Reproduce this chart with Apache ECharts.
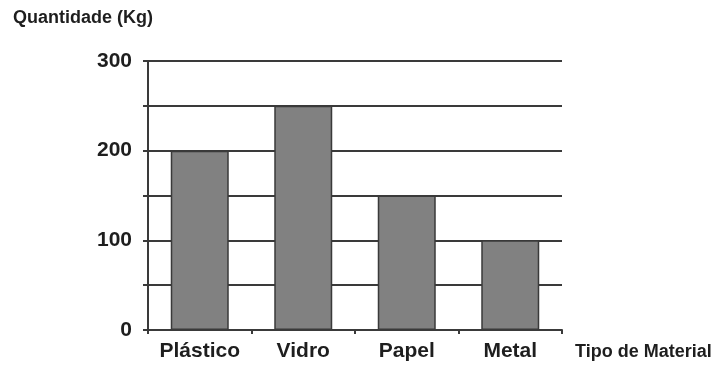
<!DOCTYPE html>
<html>
<head>
<meta charset="utf-8">
<script src="https://cdn.jsdelivr.net/npm/echarts@6/dist/echarts.min.js"></script>
<style>
  html, body { margin: 0; padding: 0; background: #ffffff; }
  #chart { width: 718px; height: 369px; }
</style>
</head>
<body>
<div id="chart"></div>
<script>
// Material categories and collected quantity (kg)
const categories = ['Plástico', 'Vidro', 'Papel', 'Metal'];
const quantities = [200, 250, 150, 100];
const yTickLabels = ['0', '100', '200', '300'];

const yAxisTitle = 'Quantidade (Kg)';
const xAxisTitle = 'Tipo de Material';

const ink = '#1e1e1e';
const lineColor = '#3a3a3a';
const fontFamily = '"Liberation Sans", Arial, sans-serif';

const chart = echarts.init(document.getElementById('chart'), null, { renderer: 'canvas' });

chart.setOption({
  backgroundColor: '#ffffff',
  animation: false,
  grid: { left: 148, right: 156, top: 61, bottom: 39, containLabel: false },
  graphic: [
    {
      type: 'text',
      left: 13,
      top: 9,
      style: {
        text: yAxisTitle,
        fill: ink,
        font: 'bold 18px ' + fontFamily
      }
    }
  ],
  xAxis: {
    type: 'category',
    data: categories,
    boundaryGap: true,
    name: xAxisTitle,
    nameLocation: 'end',
    nameGap: 13,
    nameTextStyle: {
      color: ink,
      fontFamily: fontFamily,
      fontWeight: 'bold',
      fontSize: 18,
      align: 'left',
      verticalAlign: 'top',
      padding: [13, 0, 0, 0]
    },
    axisLine: { show: true, lineStyle: { color: lineColor, width: 2 } },
    axisTick: { show: true, interval: 0, length: 4, alignWithLabel: false, lineStyle: { color: lineColor, width: 2 } },
    axisLabel: {
      interval: 0,
      hideOverlap: false,
      color: ink,
      fontFamily: fontFamily,
      fontWeight: 'bold',
      fontSize: 21,
      margin: 11
    },
    splitLine: { show: false }
  },
  yAxis: {
    type: 'value',
    min: 0,
    max: 300,
    interval: 50,
    axisLine: { show: true, lineStyle: { color: lineColor, width: 2 } },
    axisTick: { show: true, length: 5, lineStyle: { color: lineColor, width: 2 } },
    axisLabel: {
      color: ink,
      fontFamily: fontFamily,
      fontWeight: 'bold',
      fontSize: 21,
      margin: 16,
      formatter: function (v) {
        const s = String(v);
        return yTickLabels.indexOf(s) >= 0 ? s : '';
      }
    },
    splitLine: { show: true, lineStyle: { color: lineColor, width: 2 } }
  },
  series: [
    {
      type: 'bar',
      data: quantities,
      barWidth: 58,
      itemStyle: {
        color: '#818181',
        borderColor: '#3a3a3a',
        borderWidth: 1.5
      },
      z: 3
    }
  ]
});
</script>
</body>
</html>
